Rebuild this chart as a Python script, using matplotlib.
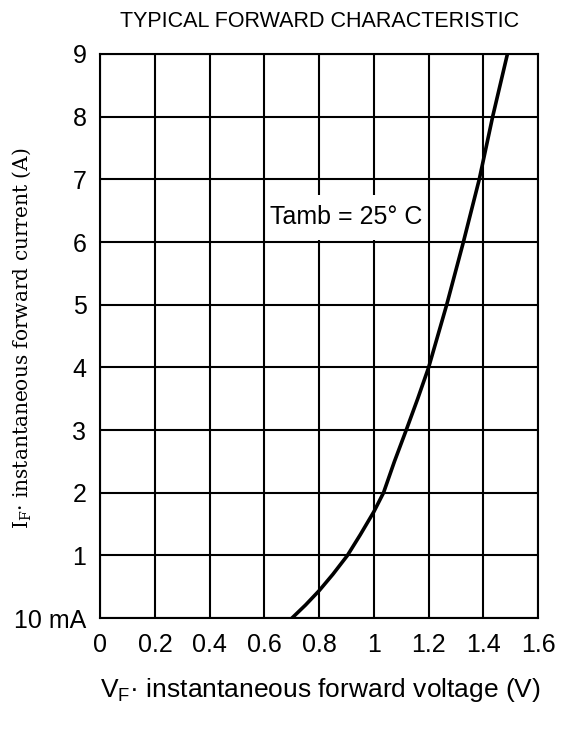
import numpy as np
import matplotlib
matplotlib.use("Agg")
import matplotlib.pyplot as plt
from matplotlib.patches import Rectangle

# forward characteristic
vf = [0.70, 0.75, 0.80, 0.85, 0.903, 0.95, 1.00, 1.035, 1.075, 1.118, 1.16, 1.20, 1.266, 1.327, 1.385, 1.434, 1.488]
i_f = [0.0, 0.21, 0.44, 0.70, 1.00, 1.33, 1.70, 2.00, 2.50, 3.00, 3.50, 4.00, 5.00, 6.00, 7.00, 8.00, 9.00]

x_ticks = [0, 0.2, 0.4, 0.6, 0.8, 1.0, 1.2, 1.4, 1.6]
x_labels = ["0", "0.2", "0.4", "0.6", "0.8", "1", "1.2", "1.4", "1.6"]
y_ticks = [0, 1, 2, 3, 4, 5, 6, 7, 8, 9]
y_labels = ["10 mA", "1", "2", "3", "4", "5", "6", "7", "8", "9"]

sans = "Liberation Sans"

fig = plt.figure(figsize=(5.7, 7.29), dpi=100)
ax = fig.add_axes([0.176, 0.152, 0.768, 0.774])

ax.plot(vf, i_f, color="black", lw=2.6, zorder=4, solid_joinstyle="round")

ax.set_xlim(0, 1.6)
ax.set_ylim(0, 9)
ax.set_xticks(x_ticks)
ax.set_xticklabels(x_labels, fontsize=18, family=sans)
ax.set_yticks(y_ticks)
ax.set_yticklabels(y_labels, fontsize=18, family=sans)
ax.tick_params(length=0)
ax.tick_params(axis="x", pad=11)
ax.tick_params(axis="y", pad=10)
ax.grid(True, color="black", lw=1.5)
ax.set_axisbelow(True)
for s in ax.spines.values():
    s.set_linewidth(1.5)

# white label box sitting on the grid
ax.add_patch(Rectangle((0.607, 6.03), 0.586, 0.72, facecolor="white",
                       edgecolor="none", zorder=2))
ax.text(0.9, 6.4, "Tamb = 25° C", ha="center", va="center", fontsize=18,
        family=sans, zorder=3)

fig.text(0.561, 0.971, "TYPICAL FORWARD CHARACTERISTIC", ha="center",
         va="center", fontsize=15.5, family=sans)
fig.text(0.563, 0.053, r"V$_\mathregular{F}$· instantaneous forward voltage (V)",
         ha="center", va="center", fontsize=19, family=sans)
fig.text(0.038, 0.536, r"I$_\mathregular{F}$· instantaneous forward current (A)",
         ha="center", va="center", rotation=90, fontsize=14.5,
         family="DejaVu Serif")

fig.savefig("out.png", dpi=100, facecolor="white")
